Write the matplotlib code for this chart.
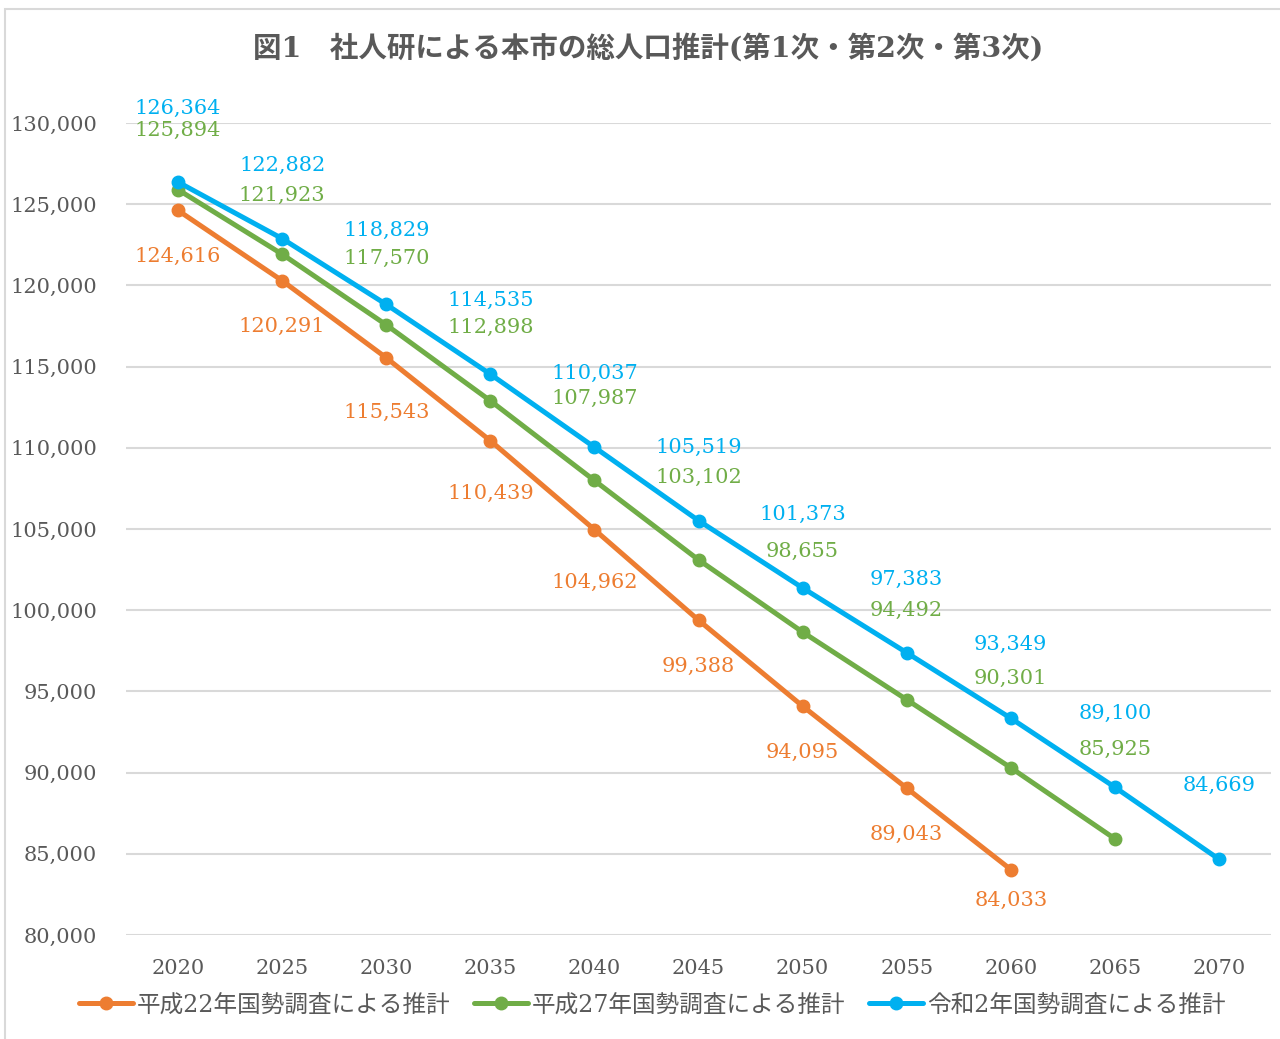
import matplotlib
matplotlib.use("Agg")
import numpy as np
from matplotlib import pyplot as plt
from matplotlib.patches import Rectangle

plt.rcParams['font.family'] = ['DejaVu Serif', 'Noto Sans CJK JP']

years = ['2020', '2025', '2030', '2035', '2040', '2045', '2050', '2055', '2060', '2065', '2070']

h22 = [124616, 120291, 115543, 110439, 104962, 99388, 94095, 89043, 84033]
h27 = [125894, 121923, 117570, 112898, 107987, 103102, 98655, 94492, 90301, 85925]
r2 = [126364, 122882, 118829, 114535, 110037, 105519, 101373, 97383, 93349, 89100, 84669]

names = ['平成22年国勢調査による推計', '平成27年国勢調査による推計', '令和2年国勢調査による推計']
colors = ['#ED7D31', '#70AD47', '#00B0F0']
text_gray = '#595959'

# data label offsets in points (negative = below the point), hand-placed like the original
off_h22 = [-33, -33, -39, -38, -38, -33, -33, -33, -22]
off_h27 = [42.5, 42, 47.5, 53, 59, 59, 58, 64, 64, 64]
off_r2 = [53] * len(r2)

W, H = 1280, 1039
fig = plt.figure(figsize=(W / 100, H / 100), dpi=100)

# outer chart frame (light gray), runs off the right/bottom edge
fig.patches.append(Rectangle((5 / W, -0.05), 1.1, (H - 9) / H + 0.05,
                             transform=fig.transFigure, fill=False,
                             edgecolor='#D9D9D9', linewidth=1.5))

ax = fig.add_axes([126 / W, 104 / H, 1145 / W, 812 / H])

x = np.arange(len(years))
series = [h22, h27, r2]
offsets = [off_h22, off_h27, off_r2]
for vals, name, c, offs in zip(series, names, colors, offsets):
    xs = x[:len(vals)]
    ax.plot(xs, vals, color=c, lw=3.6, marker='o', ms=9, label=name,
            solid_capstyle='round', zorder=3)
    for i, v in enumerate(vals):
        ax.annotate(f'{v:,}', (xs[i], v), xytext=(0, offs[i]), textcoords='offset points',
                    ha='center', va='center', color=c, fontsize=15, annotation_clip=False)

ax.set_xlim(-0.5, len(years) - 0.5)
ax.set_ylim(80000, 130000)
ax.set_xticks(x)
ax.set_xticklabels(years)
ax.set_yticks(np.arange(80000, 130001, 5000))
ax.set_yticklabels([f'{v:,}' for v in range(80000, 130001, 5000)])
ax.tick_params(axis='both', length=0, labelsize=15, colors=text_gray)
ax.tick_params(axis='y', pad=21)
ax.tick_params(axis='x', pad=17)
ax.grid(axis='y', color='#D9D9D9', lw=1.5)
ax.set_axisbelow(True)
for s in ax.spines.values():
    s.set_visible(False)

fig.text(648 / W, 1 - 48 / H, '図1　社人研による本市の総人口推計(第1次・第2次・第3次)',
         ha='center', va='center', fontsize=20.5, fontweight='bold', color=text_gray)

leg = fig.legend(loc='center', bbox_to_anchor=(652 / W, 1 - 1005 / H), ncol=3,
                 frameon=False, fontsize=17, handlelength=2.3, handletextpad=0.15,
                 columnspacing=1.0)
for t in leg.get_texts():
    t.set_color(text_gray)

fig.savefig('out.png', dpi=100)
